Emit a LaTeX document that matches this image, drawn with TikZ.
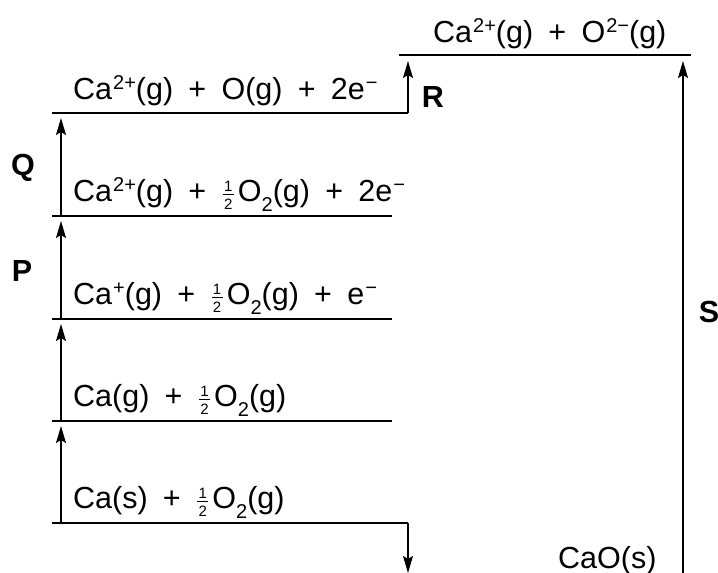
\documentclass[tikz,border=0pt]{standalone}
\usepackage{amsmath}
\usepackage{fontspec}
\setmainfont{Liberation Sans}
\usetikzlibrary{arrows.meta}
\newcommand{\sups}[1]{\kern1pt\raisebox{0.30em}{\fontsize{20}{20}\selectfont #1}}
\newcommand{\subs}[1]{\raisebox{-0.36em}{\fontsize{20}{20}\selectfont #1}}
\newcommand{\hlf}{$\frac{\makebox[11pt]{\fontsize{15}{15}\selectfont 1}}{\makebox[11pt]{\fontsize{15}{15}\selectfont 2}}$\kern3pt}
\newcommand{\pl}{\hspace{0.5em}+\hspace{0.5em}}
\begin{document}
\begin{tikzpicture}[x=1pt,y=-1pt,
  font=\fontsize{30.5}{36}\selectfont,
  level/.style={line width=2pt},
  arr/.style={line width=1.3pt,-{Stealth[length=17pt,width=10pt,inset=3pt]}},
  lab/.style={anchor=base west,inner sep=0pt},
  tag/.style={font=\fontsize{30.5}{36}\selectfont\bfseries,inner sep=0pt}]
\useasboundingbox (0,0) rectangle (718,573);
% level end points
\coordinate (a0) at (52,523); \coordinate (b0) at (408,523); \coordinate (d0) at (408,573);
\coordinate (a1) at (52,421); \coordinate (b1) at (392,421);
\coordinate (a2) at (52,319); \coordinate (b2) at (392,319);
\coordinate (a3) at (52,216); \coordinate (b3) at (392,216);
\coordinate (a4) at (52,113); \coordinate (b4) at (408,113); \coordinate (c4) at (408,55);
\coordinate (a5) at (399,55); \coordinate (b5) at (691,55);
\coordinate (s0) at (683,573); \coordinate (s1) at (683,55);
% arrow feet on the left
\coordinate (p0) at (61,523); \coordinate (p1) at (61,421);
\coordinate (p2) at (61,319); \coordinate (p3) at (61,216);
\coordinate (p4) at (61,113);
% levels
\draw[level] (a0) -- (b0);
\draw[level] (a1) -- (b1);
\draw[level] (a2) -- (b2);
\draw[level] (a3) -- (b3);
\draw[level] (a4) -- (b4);
\draw[level] (a5) -- (b5);
% arrows
\draw[arr,shorten >=5pt] (p0) -- (p1);
\draw[arr,shorten >=5pt] (p1) -- (p2);
\draw[arr,shorten >=5pt] (p2) -- (p3);
\draw[arr,shorten >=5pt] (p3) -- (p4);
\draw[arr,shorten >=6pt] (b4) -- (c4);
\draw[arr] (b0) -- (d0);
\draw[arr,shorten >=6pt] (s0) -- (s1);
% level texts
\node[lab] (t0) at (73,508) {Ca(s)\pl\hlf O\subs{2}(g)};
\node[lab] (t1) at (73,406) {Ca(g)\pl\hlf O\subs{2}(g)};
\node[lab] (t2) at (73,304) {Ca\sups{+}(g)\pl\hlf O\subs{2}(g)\pl e\sups{−}};
\node[lab] (t3) at (73,201) {Ca\sups{2+}(g)\pl\hlf O\subs{2}(g)\pl 2e\sups{−}};
\node[lab] (t4) at (73,99) {Ca\sups{2+}(g)\pl O(g)\pl 2e\sups{−}};
\node[lab] (t5) at (433,42) {Ca\sups{2+}(g)\pl O\sups{2−}(g)};
\node[lab] (t6) at (558,568) {CaO(s)};
% step tags
\node[tag] (q) at (23,168) {Q};
\node[tag] (p) at (22,271) {P};
\node[tag] (r) at (433,97) {R};
\node[tag] (s) at (709,312) {S};
\end{tikzpicture}
\end{document}
